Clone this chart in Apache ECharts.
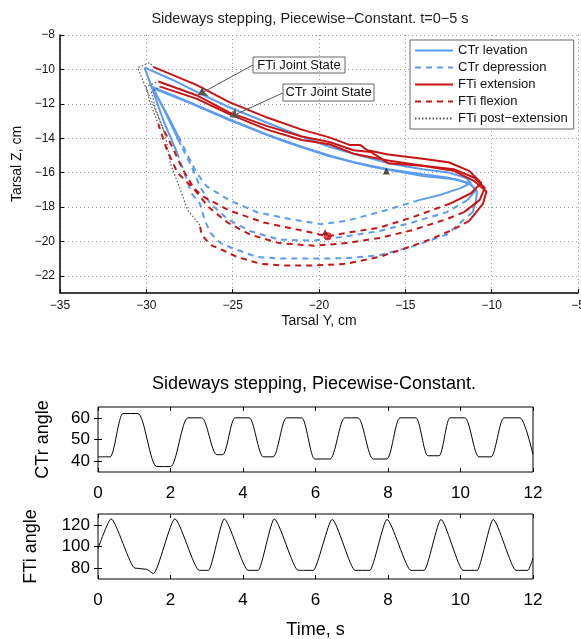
<!DOCTYPE html>
<html>
<head>
<meta charset="utf-8">
<title>Sideways stepping, Piecewise-Constant</title>
<script src="https://cdn.jsdelivr.net/npm/echarts@6/dist/echarts.min.js"></script>
<style>
html, body { margin: 0; padding: 0; background: #fff; }
#chart { width: 581px; height: 639px; }
</style>
</head>
<body>
<div id="chart"></div>
<script>
// tarsus trajectory, [Tarsal Y, Tarsal Z] in cm, cut into joint-state pieces
// CTr state (blue)
const ctrLev1 = [[-30.1,-9.9],[-28.5,-10.6],[-27,-11.35],[-25.2,-12.2],[-23,-13.1],[-21,-13.9],[-19.4,-14.5],[-18,-14.9],[-16,-15.45],[-14,-15.8],[-12.5,-16.0],[-11.5,-16.3],[-11.2,-16.6],[-11.8,-16.9],[-13,-17.3],[-14.2,-17.6]];
const ctrDep1 = [[-14.2,-17.6],[-16.5,-18.3],[-18.4,-18.8],[-19.9,-19.0],[-21.7,-18.7],[-23.6,-18.3],[-25.2,-17.6],[-26.5,-16.8],[-27.1,-16.0],[-27.6,-15.0],[-28.1,-14.0]];
const ctrLev2 = [[-28.1,-14.0],[-28.8,-12.6],[-29.7,-11.0],[-27.5,-11.9],[-25.2,-12.9],[-23,-13.8],[-21,-14.5],[-19.4,-15.0],[-18,-15.4],[-16,-15.8],[-14,-16.1],[-12.5,-16.3],[-11.3,-16.6],[-10.9,-17.0],[-11.4,-17.6]];
const ctrDep2 = [[-11.4,-17.6],[-12.6,-18.3],[-14.6,-18.9],[-16.5,-19.4],[-18.4,-19.7],[-20.3,-19.95],[-22.3,-19.9],[-24,-19.4],[-25.3,-18.7],[-26.3,-17.8],[-26.9,-16.8],[-27.4,-15.6],[-28,-14.4]];
const ctrLev3 = [[-28,-14.4],[-28.9,-12.5],[-29.6,-11.1],[-27.5,-11.95],[-25.2,-12.95],[-22,-14.2],[-19.4,-15.05],[-17,-15.65],[-14,-16.2],[-12,-16.4],[-11.2,-16.7],[-10.85,-17.1],[-10.9,-17.6],[-11.1,-18.3]];
const ctrDep3 = [[-11.1,-18.3],[-12.6,-19.6],[-14.6,-20.3],[-16.5,-20.8],[-18.4,-20.98],[-20.35,-21.0],[-22.3,-21.0],[-23.6,-20.9],[-25,-20.4],[-25.7,-20.1],[-26.3,-19.5],[-26.6,-18.8],[-26.9,-17.8],[-27.4,-17.2],[-27.8,-16.0],[-28.2,-14.9]];
const ctrLev4 = [[-28.2,-14.9],[-29.0,-13.0],[-29.7,-11.0],[-30.1,-9.9]];

// FTi state (red)
const ftiExt1 = [[-29.6,-9.85],[-27.1,-10.9],[-25.2,-11.9],[-23,-12.8],[-21,-13.5],[-19.4,-13.95],[-18.2,-14.4],[-17.6,-14.4],[-17.2,-14.7],[-16,-14.95],[-14,-15.2],[-12.5,-15.4],[-11.3,-15.9],[-10.6,-16.6],[-11.2,-17.2],[-12.4,-17.8]];
const ftiFlex1 = [[-12.4,-17.8],[-14.6,-18.6],[-16.5,-19.2],[-18.4,-19.5],[-19.5,-19.7],[-21.3,-19.3],[-23.2,-18.9],[-25.2,-18.2],[-26.7,-17.4],[-27.6,-16.6],[-28.2,-16.0],[-28.8,-14.7],[-29.3,-13.2]];
const ftiPost1 = [[-29.3,-13.2],[-29.8,-11.9],[-30.0,-11.0],[-29.3,-10.7]];
const ftiExt2 = [[-29.3,-10.7],[-27.1,-11.5],[-25.2,-12.5],[-23,-13.3],[-21,-13.9],[-19.4,-14.22],[-18,-14.7],[-17,-14.8],[-16,-15.45],[-14,-15.6],[-12.2,-15.8],[-11,-16.3],[-10.4,-16.9],[-10.7,-17.6],[-11.6,-18.3]];
const ftiFlex2 = [[-11.6,-18.3],[-12.6,-18.7],[-14.6,-19.35],[-16.5,-19.8],[-18.4,-20.1],[-20.3,-20.25],[-22.3,-20.1],[-24,-19.6],[-25.3,-18.9],[-26.4,-18.0],[-27.2,-17.0],[-27.9,-15.8],[-28.5,-14.5],[-29.0,-13.5]];
const ftiPost2 = [[-29.0,-13.5],[-29.5,-12.2],[-29.7,-11.3],[-29.2,-11.0]];
const ftiExt3 = [[-29.2,-11.0],[-27.1,-11.7],[-25.2,-12.6],[-23,-13.5],[-21,-14.1],[-19.4,-14.35],[-18,-14.9],[-16,-15.3],[-14,-15.6],[-12.2,-15.9],[-11,-16.5],[-10.3,-17.1],[-10.5,-17.8],[-11.3,-18.8]];
const ftiFlex3 = [[-11.3,-18.8],[-12.2,-19.3],[-13.6,-19.9],[-15,-20.4],[-16.5,-20.9],[-18.4,-21.3],[-20.35,-21.4],[-22.1,-21.4],[-23.4,-21.3],[-24.75,-20.9],[-25.6,-20.5],[-26.3,-20.2],[-26.8,-19.6],[-26.9,-19.05]];
const ftiPost3 = [[-26.9,-19.05],[-27.6,-18.2],[-28.1,-16.8],[-28.6,-15.5],[-28.9,-13.8],[-29.5,-12.3],[-30.1,-10.9],[-30.5,-9.9],[-29.8,-9.6],[-29.6,-9.85]];

// marker points on the trajectory
const stateMarkBlack = [[-16.1,-15.9]];
const stateMarkRed = [[-19.5,-19.7]];
const stateMarkDark = [[-19.65,-19.45]];

// annotation arrows: [tail, head]
const ftiArrow = [[-23.82,-9.74],[-27.01,-11.49]];
const ctrArrow = [[-22.09,-11.37],[-25.16,-12.77]];

// joint angles over time
const ctrTime = [0,0.33,0.69,1.1,1.62,2.0,2.48,2.86,3.28,3.44,3.78,4.17,4.56,4.83,5.2,5.62,5.98,6.4,6.81,7.17,7.59,7.97,8.33,8.77,9.1,9.41,9.71,10.12,10.51,10.84,11.2,11.64,12];
const ctrAngle = [42,42,62,62,37.5,37.5,60,60,43,43,60,60,42,42,60,60,41,41,60,60,41,41,60,60,42.5,42.5,60,60,42,42,60,60,43];
const ftiTime = [0,0.36,1.02,1.34,1.53,2.12,2.79,3.05,3.48,4.14,4.42,4.86,5.52,5.94,6.46,7.09,7.5,7.97,8.63,9.0,9.46,10.07,10.46,10.9,11.53,11.86,12];
const ftiAngle = [98,125.5,80,79,75,125.5,78,78,125.5,78,78,125.5,78,78,125,78,78,125,78,78,125,78,78,125,78,78,89];

const yTicksTop = [-22,-20,-18,-16,-14,-12,-10,-8];
const ctrTicks = [40,50,60];
const ftiTicks = [80,100,120];

const legendNames = ['CTr levation', 'CTr depression', 'FTi extension', 'FTi flexion', 'FTi post\u2212extension'];

const blue = '#5b9cf0';
const red = '#c81414';
const font = 'Liberation Sans, Arial, Helvetica, sans-serif';
const minus = v => String(v).replace('-', '\u2212');

function piece(name, pts, color, dash, width) {
  return {
    name: name,
    type: 'line',
    data: pts,
    symbol: 'none',
    showSymbol: false,
    lineStyle: { color: color, width: width || 2, type: dash },
    itemStyle: { color: color },
    emphasis: { disabled: true },
    z: 3
  };
}

function zip(a, b) {
  return a.map((v, i) => [v, b[i]]);
}

const chart = echarts.init(document.getElementById('chart'));

const boxAxisX = (grid, pos, showLabel) => ({
  type: 'value', gridIndex: grid, position: pos, min: 0, max: 12, interval: 2,
  axisLine: { show: false },
  axisTick: { show: true, inside: true, length: 4, lineStyle: { color: '#000' } },
  axisLabel: { show: showLabel, fontSize: 17, color: '#000', fontFamily: font, margin: 13 },
  splitLine: { show: false }
});

const boxAxisY = (grid, pos, showLabel, min, max, ticks) => ({
  type: 'value', gridIndex: grid, position: pos, min: min, max: max,
  axisLine: { show: false },
  axisTick: { show: true, inside: true, length: 4, customValues: ticks, lineStyle: { color: '#000' } },
  axisLabel: { show: showLabel, customValues: ticks, fontSize: 17, color: '#000', fontFamily: font, margin: 8 },
  splitLine: { show: false }
});

const xAxes = [
  {
    type: 'value', gridIndex: 0, min: -35, max: -5, interval: 5,
    name: 'Tarsal Y, cm', nameLocation: 'middle', nameGap: 21,
    nameTextStyle: { fontSize: 14, color: '#111', fontFamily: font },
    axisLine: { lineStyle: { color: '#000', width: 1.5 } },
    axisTick: { inside: true, length: 4, lineStyle: { color: '#000' } },
    axisLabel: { formatter: minus, fontSize: 12, color: '#111', fontFamily: font, margin: 7 },
    splitLine: { show: true, lineStyle: { color: '#9a9a9a', width: 1, type: [1, 3] } }
  },
  boxAxisX(1, 'bottom', true),
  boxAxisX(1, 'top', false),
  Object.assign(boxAxisX(2, 'bottom', true), {
    name: 'Time, s', nameLocation: 'middle', nameGap: 42,
    nameTextStyle: { fontSize: 18, color: '#000', fontFamily: font }
  }),
  boxAxisX(2, 'top', false)
];

const yAxes = [
  {
    type: 'value', gridIndex: 0, min: -23, max: -8,
    name: 'Tarsal Z, cm', nameLocation: 'middle', nameGap: 34,
    nameTextStyle: { fontSize: 14, color: '#111', fontFamily: font },
    axisLine: { lineStyle: { color: '#000', width: 1.5 } },
    axisTick: { inside: true, length: 4, customValues: yTicksTop, lineStyle: { color: '#000' } },
    axisLabel: { customValues: yTicksTop, formatter: minus, fontSize: 12, color: '#111', fontFamily: font, margin: 5 },
    splitLine: { show: true, lineStyle: { color: '#9a9a9a', width: 1, type: [1, 3] } }
  },
  Object.assign(boxAxisY(1, 'left', true, 35, 65, ctrTicks), {
    name: 'CTr angle', nameLocation: 'middle', nameGap: 46,
    nameTextStyle: { fontSize: 18, color: '#000', fontFamily: font }
  }),
  boxAxisY(1, 'right', false, 35, 65, ctrTicks),
  Object.assign(boxAxisY(2, 'left', true, 70, 130, ftiTicks), {
    name: 'FTi angle', nameLocation: 'middle', nameGap: 58,
    nameTextStyle: { fontSize: 18, color: '#000', fontFamily: font }
  }),
  boxAxisY(2, 'right', false, 70, 130, ftiTicks)
];

const dash = [6, 5];
const dot = [1.5, 2];

const series = [
  piece(legendNames[0], ctrLev1, blue, 'solid'),
  piece(legendNames[1], ctrDep1, blue, dash),
  piece(legendNames[0], ctrLev2, blue, 'solid'),
  piece(legendNames[1], ctrDep2, blue, dash),
  piece(legendNames[0], ctrLev3, blue, 'solid'),
  piece(legendNames[1], ctrDep3, blue, dash),
  piece(legendNames[0], ctrLev4, blue, 'solid'),
  piece(legendNames[2], ftiExt1, red, 'solid'),
  piece(legendNames[3], ftiFlex1, red, dash),
  piece(legendNames[4], ftiPost1, '#555', dot, 1.2),
  piece(legendNames[2], ftiExt2, red, 'solid'),
  piece(legendNames[3], ftiFlex2, red, dash),
  piece(legendNames[4], ftiPost2, '#555', dot, 1.2),
  piece(legendNames[2], ftiExt3, red, 'solid'),
  piece(legendNames[3], ftiFlex3, red, dash),
  piece(legendNames[4], ftiPost3, '#555', dot, 1.2),
  {
    type: 'scatter', data: stateMarkBlack, symbol: 'triangle', symbolSize: 7,
    itemStyle: { color: '#222' }, z: 5, emphasis: { disabled: true },
    markLine: {
      silent: true, symbol: ['none', 'arrow'], symbolSize: 9, animation: false,
      lineStyle: { color: '#555', width: 1, type: 'solid' },
      label: { show: false }, emphasis: { disabled: true },
      data: [
        [{ coord: ftiArrow[0] }, { coord: ftiArrow[1] }],
        [{ coord: ctrArrow[0] }, { coord: ctrArrow[1] }]
      ]
    }
  },
  { type: 'scatter', data: stateMarkRed, symbol: 'circle', symbolSize: 8, itemStyle: { color: '#e01010' }, z: 5, emphasis: { disabled: true } },
  { type: 'scatter', data: stateMarkDark, symbol: 'triangle', symbolSize: 6, itemStyle: { color: '#7a0a0a' }, z: 5, emphasis: { disabled: true } },
  {
    type: 'line', xAxisIndex: 1, yAxisIndex: 1, data: zip(ctrTime, ctrAngle),
    symbol: 'none', smooth: 0.35, smoothMonotone: 'x',
    lineStyle: { color: '#000', width: 1 }, emphasis: { disabled: true }
  },
  {
    type: 'line', xAxisIndex: 3, yAxisIndex: 3, data: zip(ftiTime, ftiAngle),
    symbol: 'none', smooth: 0.2, smoothMonotone: 'x',
    lineStyle: { color: '#000', width: 1 }, emphasis: { disabled: true }
  }
];

chart.setOption({
  animation: false,
  backgroundColor: '#fff',
  grid: [
    { left: 60, top: 35, width: 518, height: 258, outerBoundsMode: 'none' },
    { left: 98, top: 407, width: 435, height: 65, outerBoundsMode: 'none', show: true, borderColor: '#000', borderWidth: 1, backgroundColor: 'transparent' },
    { left: 98, top: 514, width: 435, height: 65, outerBoundsMode: 'none', show: true, borderColor: '#000', borderWidth: 1, backgroundColor: 'transparent' }
  ],
  xAxis: xAxes,
  yAxis: yAxes,
  legend: {
    data: legendNames,
    orient: 'vertical',
    left: 410, top: 40,
    itemWidth: 38, itemHeight: 13, itemGap: 4,
    padding: [4, 6, 4, 4],
    backgroundColor: '#fff',
    borderColor: '#666', borderWidth: 1,
    itemStyle: { color: 'transparent', borderColor: 'transparent', borderWidth: 0, opacity: 0 },
    textStyle: { fontSize: 13, color: '#111', fontFamily: font },
    selectedMode: false
  },
  graphic: [
    {
      type: 'text', x: 310, y: 19, z: 10,
      style: { text: 'Sideways stepping, Piecewise\u2212Constant. t=0\u22125 s', font: '14.5px ' + font, fill: '#222', align: 'center', verticalAlign: 'middle', textAlign: 'center', textVerticalAlign: 'middle' }
    },
    {
      type: 'text', x: 314, y: 384, z: 10,
      style: { text: 'Sideways stepping, Piecewise-Constant.', font: '18px ' + font, fill: '#000', align: 'center', verticalAlign: 'middle', textAlign: 'center', textVerticalAlign: 'middle' }
    },
    {
      type: 'group', x: 253, y: 57, z: 20,
      children: [
        { type: 'rect', shape: { x: 0, y: 0, width: 92, height: 16 }, style: { fill: '#fff', stroke: '#666', lineWidth: 1 } },
        { type: 'text', x: 46, y: 8, style: { text: 'FTi Joint State', font: '13px ' + font, fill: '#111', align: 'center', verticalAlign: 'middle', textAlign: 'center', textVerticalAlign: 'middle' } }
      ]
    },
    {
      type: 'group', x: 283, y: 84, z: 20,
      children: [
        { type: 'rect', shape: { x: 0, y: 0, width: 91, height: 17 }, style: { fill: '#fff', stroke: '#666', lineWidth: 1 } },
        { type: 'text', x: 45.5, y: 8.5, style: { text: 'CTr Joint State', font: '13px ' + font, fill: '#111', align: 'center', verticalAlign: 'middle', textAlign: 'center', textVerticalAlign: 'middle' } }
      ]
    }
  ],
  series: series
});
</script>
</body>
</html>
